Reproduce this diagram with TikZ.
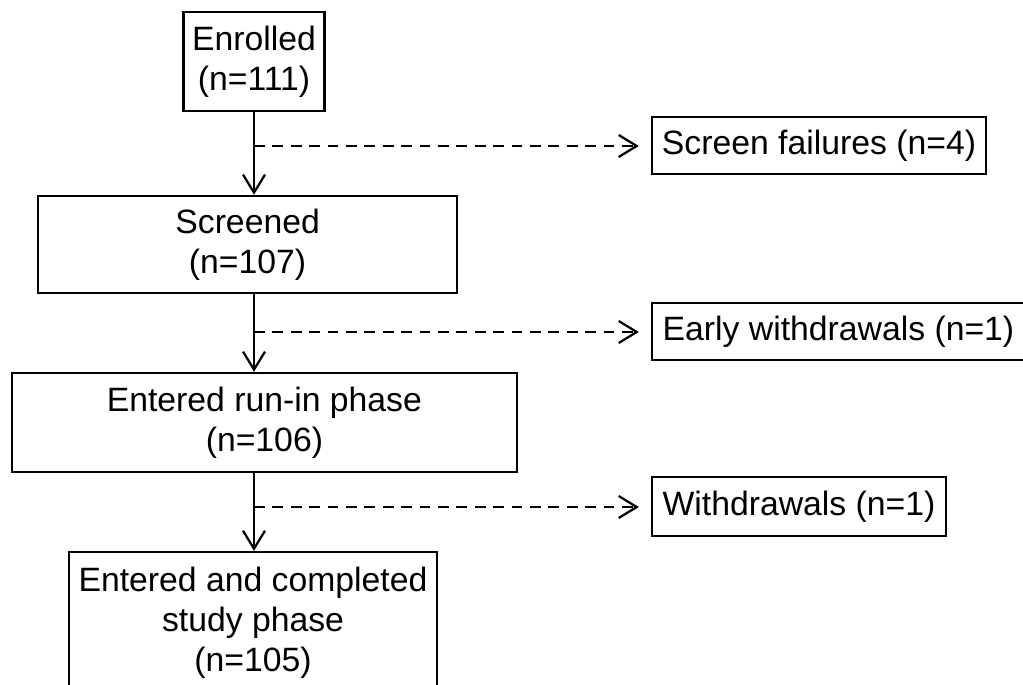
\documentclass[tikz,border=0pt]{standalone}
\usepackage{fontspec}
\setmainfont{Liberation Sans}
\usetikzlibrary{arrows.meta}

\begin{document}
\begin{tikzpicture}

\tikzset{stagebox/.style={draw, line width=1.6pt, align=center, inner sep=0pt,
    font=\fontsize{24}{28.5}\selectfont},
  exitbox/.style={stagebox, minimum height=1.425cm},
  flow/.style={line width=1.6pt, -{Straight Barb[length=0.45cm, width=0.55cm]}},
  exitflow/.style={flow, dash pattern=on 0.27cm off 0.19cm, shorten >=0.3cm}
}

\useasboundingbox (0,0) rectangle (25.575,-17.125);

\node[stagebox, minimum width=3.525cm, minimum height=2.475cm] (enrolled) at (6.35,-1.54) {Enrolled\\(n=111)};
\node[stagebox, minimum width=10.475cm, minimum height=2.425cm] (screened) at (6.19,-6.11) {Screened\\(n=107)};
\node[stagebox, minimum width=12.625cm, minimum height=2.475cm] (runin) at (6.61,-10.56) {Entered run-in phase\\(n=106)};
\node[stagebox, minimum width=9.2cm, minimum height=3.55cm] (completed) at (6.325,-15.575) {Entered and completed\\study phase\\(n=105)};

\node[exitbox, minimum width=8.35cm] (failures) at (20.475,-3.6375) {Screen failures (n=4)};
\node[exitbox, minimum width=9.325cm] (early) at (20.9625,-8.2875) {Early withdrawals (n=1)};
\node[exitbox, minimum width=7.35cm, minimum height=1.475cm] (withdrawn) at (19.975,-12.6625) {Withdrawals (n=1)};

\draw[flow] (enrolled.south) -- (enrolled.south |- screened.north);
\draw[flow] (enrolled.south |- screened.south) -- (enrolled.south |- runin.north);
\draw[flow] (enrolled.south |- runin.south) -- (enrolled.south |- completed.north);

\coordinate (split1) at (6.35,-3.65);
\coordinate (split2) at (6.35,-8.3);
\coordinate (split3) at (6.35,-12.675);
\draw[exitflow] (split1) -- (split1 -| failures.west);
\draw[exitflow] (split2) -- (split2 -| early.west);
\draw[exitflow] (split3) -- (split3 -| withdrawn.west);

\end{tikzpicture}
\end{document}
